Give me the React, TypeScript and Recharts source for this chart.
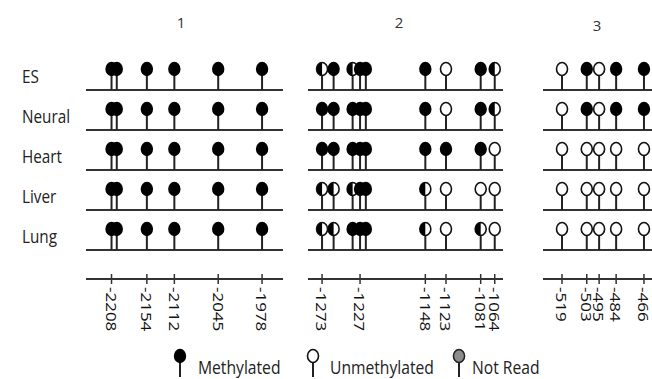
import { ScatterChart, Scatter, XAxis, YAxis, ReferenceLine } from "recharts"

// M = methylated, U = unmethylated, H = partly methylated, N = not read
const rows = ["ES", "Neural", "Heart", "Liver", "Lung"]
const panelNames = ["1", "2", "3"]

const sites1 = [-2208, -2200, -2154, -2112, -2045, -1978]
const ticks1 = [-2208, -2154, -2112, -2045, -1978]
const calls1 = [
  ["M", "M", "M", "M", "M", "M"],
  ["M", "M", "M", "M", "M", "M"],
  ["M", "M", "M", "M", "M", "M"],
  ["M", "M", "M", "M", "M", "M"],
  ["M", "M", "M", "M", "M", "M"],
]

const sites2 = [-1273, -1259, -1236, -1227, -1220, -1148, -1123, -1081, -1064]
const ticks2 = [-1273, -1227, -1148, -1123, -1081, -1064]
const calls2 = [
  ["H", "M", "H", "M", "M", "M", "U", "M", "H"],
  ["M", "M", "M", "M", "M", "M", "U", "M", "H"],
  ["M", "M", "M", "M", "M", "M", "M", "M", "U"],
  ["H", "H", "H", "M", "M", "H", "U", "U", "U"],
  ["H", "H", "M", "M", "M", "H", "U", "H", "U"],
]

const sites3 = [-519, -503, -495, -484, -466]
const ticks3 = [-519, -503, -495, -484, -466]
const calls3 = [
  ["U", "M", "U", "M", "M"],
  ["U", "M", "U", "M", "M"],
  ["U", "U", "U", "U", "U"],
  ["U", "U", "U", "U", "U"],
  ["U", "U", "U", "U", "U"],
]

const legendItems = [
  { status: "M", label: "Methylated" },
  { status: "U", label: "Unmethylated" },
  { status: "N", label: "Not Read" },
]

const FONT = "'Open Sans', sans-serif"
const INK = "#222"

function Head({ cx, cy, status }: { cx: number; cy: number; status: string }) {
  if (status === "M") return <ellipse cx={cx} cy={cy} rx={6.2} ry={7.2} fill="#000" />
  if (status === "N")
    return <ellipse cx={cx} cy={cy} rx={5.6} ry={6.5} fill="#8c8c8c" stroke={INK} strokeWidth={1.5} />
  const rx = 5.5
  const ry = 6.5
  return (
    <g>
      <ellipse cx={cx} cy={cy} rx={rx} ry={ry} fill="#fff" stroke="#111" strokeWidth={1.6} />
      {status === "H" && (
        <path d={`M${cx},${cy - ry} A${rx},${ry} 0 0 0 ${cx},${cy + ry} Z`} fill="#000" />
      )}
    </g>
  )
}

function Lollipop({ cx, cy, status }: { cx: number; cy: number; status: string }) {
  const hy = cy - 21
  return (
    <g>
      <line x1={cx} x2={cx} y1={cy} y2={hy + 6} stroke={INK} strokeWidth={2} />
      <Head cx={cx} cy={hy} status={status} />
    </g>
  )
}

function SiteTick(props: any) {
  const { x, y, payload } = props
  return (
    <g>
      <line x1={x} x2={x} y1={y - 5} y2={y + 5} stroke="#333" strokeWidth={1.5} />
      <text
        transform={`translate(${x},${y + 8}) rotate(90) scale(1,0.9)`}
        dominantBaseline="central"
        textAnchor="start"
        fontSize={17}
        fontFamily={FONT}
        fill="#111"
      >
        {payload.value}
      </text>
    </g>
  )
}

function RowTick(props: any) {
  const { y, payload } = props
  return (
    <text
      transform={`translate(22,${y - 14}) scale(0.85,1)`}
      dominantBaseline="central"
      fontSize={18}
      fontFamily={FONT}
      fill={INK}
    >
      {rows[payload.value]}
    </text>
  )
}

function Panel({
  left,
  width,
  marginLeft,
  marginRight,
  domain,
  sites,
  ticks,
  calls,
  showRows,
}: {
  left: number
  width: number
  marginLeft: number
  marginRight: number
  domain: [number, number]
  sites: number[]
  ticks: number[]
  calls: string[][]
  showRows: boolean
}) {
  const data = calls.flatMap((row, r) => row.map((s, i) => ({ pos: sites[i], row: r, status: s })))
  return (
    <div style={{ position: "absolute", left, top: 0 }}>
      <ScatterChart
        width={width}
        height={379}
        margin={{ top: 50, bottom: 40, left: marginLeft, right: marginRight }}
      >
        <XAxis
          type="number"
          dataKey="pos"
          domain={domain}
          ticks={ticks}
          interval={0}
          allowDataOverflow
          height={60}
          axisLine={{ stroke: "#333", strokeWidth: 2 }}
          tickLine={false}
          tickSize={0}
          tickMargin={0}
          tick={<SiteTick />}
        />
        <YAxis
          type="number"
          dataKey="row"
          domain={[-1, 4.725]}
          reversed
          allowDataOverflow
          ticks={[0, 1, 2, 3, 4]}
          interval={0}
          hide={!showRows}
          width={showRows ? 86 : 0}
          axisLine={false}
          tickLine={false}
          tick={<RowTick />}
        />
        {rows.map((_, r) => (
          <ReferenceLine key={r} y={r} stroke="#333" strokeWidth={2} />
        ))}
        <Scatter
          data={data}
          isAnimationActive={false}
          shape={(p: any) => <Lollipop cx={p.cx} cy={p.cy} status={p.payload.status} />}
        />
      </ScatterChart>
    </div>
  )
}

export default function App() {
  const titleX = [181, 399, 597]
  const titleY = [22, 22, 25]
  const legendX = [180, 313, 459]
  const legendTextX = [198, 330, 472]
  return (
    <div
      style={{
        position: "absolute",
        left: 0,
        top: 0,
        width: 652,
        height: 379,
        overflow: "hidden",
        background: "#fff",
      }}
    >
      <Panel left={0} width={300} marginLeft={0} marginRight={17} domain={[-2247, -1946]}
        sites={sites1} ticks={ticks1} calls={calls1} showRows />
      <Panel left={300} width={220} marginLeft={8} marginRight={17} domain={[-1290, -1054]}
        sites={sites2} ticks={ticks2} calls={calls2} showRows={false} />
      <Panel left={530} width={122} marginLeft={13} marginRight={0} domain={[-531.3, -460.8]}
        sites={sites3} ticks={ticks3} calls={calls3} showRows={false} />
      <svg width={652} height={379} style={{ position: "absolute", left: 0, top: 0, pointerEvents: "none" }}>
        {panelNames.map((n, i) => (
          <text key={n} x={titleX[i]} y={titleY[i]} textAnchor="middle" dominantBaseline="central"
            fontSize={15} fontFamily={FONT} fill="#333">
            {n}
          </text>
        ))}
        {legendItems.map((it, i) => (
          <g key={it.label}>
            <Lollipop cx={legendX[i]} cy={377} status={it.status} />
            <text transform={`translate(${legendTextX[i]},374) scale(0.87,1)`} fontSize={18}
              fontFamily={FONT} fill={INK}>
              {it.label}
            </text>
          </g>
        ))}
      </svg>
    </div>
  )
}
